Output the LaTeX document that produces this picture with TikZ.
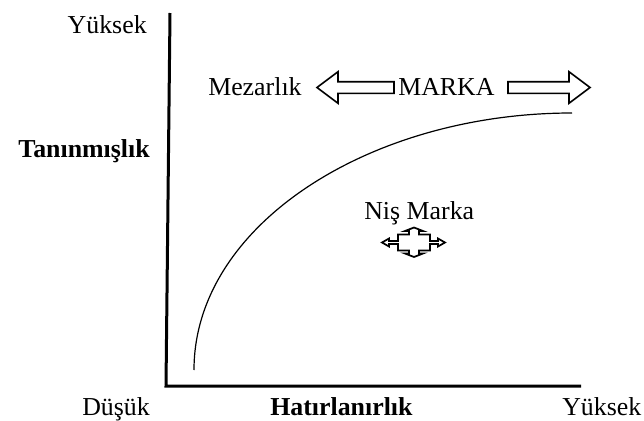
\documentclass[tikz,border=0pt]{standalone}
\usepackage{fontspec}
\setmainfont{Liberation Serif}
\usepackage{tikz}
\usetikzlibrary{positioning}

\begin{document}
\begin{tikzpicture}[x=0.75pt,y=-0.75pt,
  lbl/.style={inner sep=0pt,font=\fontsize{19.4}{23}\selectfont},
  bold/.style={lbl,font=\fontsize{19.4}{23}\selectfont\bfseries},
  axis/.style={line width=2.25pt,line join=miter},
  curve/.style={line width=0.9pt},
  blockarr/.style={draw,line width=1.2pt,line join=miter}]
\useasboundingbox (0,0) rectangle (644,421);
% axes
\coordinate (ytop) at (170,13);
\coordinate (origin) at (166,386);
\coordinate (xend) at (581,386);
\draw[axis] (ytop) -- (origin) -- (xend);
% axis labels
\node[lbl,anchor=base east] (yhigh) at (147,33) {Yüksek};
\node[bold,anchor=base east] (ytitle) at (150,157) {Tanınmışlık};
\node[lbl,anchor=base west] (xlow) at (82,415) {Düşük};
\node[bold,anchor=base west] (xtitle) at (270,415) {Hatırlanırlık};
\node[lbl,anchor=base west] (xhigh) at (562,415) {Yüksek};
% brand curve
\coordinate (cstart) at (194,370);
\coordinate (cend) at (572,113);
\draw[curve] (cstart) .. controls (194,225) and (370,113) .. (cend);
% top row
\node[lbl,anchor=base west] (grave) at (208,95) {Mezarlık};
\node[lbl,anchor=base west] (brand) at (398,95) {MARKA};
\draw[blockarr] (317,87.5) -- (338,71.7) -- (338,81.7) -- (394,81.7)
  -- (394,93.3) -- (338,93.3) -- (338,103.3) -- cycle;
\draw[blockarr] (508,81.7) -- (569,81.7) -- (569,71.7) -- (590,87.5)
  -- (569,103.3) -- (569,93.3) -- (508,93.3) -- cycle;
% niche
\node[lbl,anchor=base west] (niche) at (364,219) {Niş Marka};
\begin{scope}[shift={(414,242.5)}]
\draw[blockarr,line width=1.3pt] (0,-15) -- (9,-11.5) -- (5,-11.5) -- (5,-8) -- (16,-8)
  -- (16,-1.5) -- (24,-1.5) -- (24,-4) -- (31,0) -- (24,4) -- (24,1.5)
  -- (16,1.5) -- (16,8) -- (5,8) -- (5,11) -- (9,11) -- (0,14.5)
  -- (-9,11) -- (-5,11) -- (-5,8) -- (-16,8) -- (-16,1.5) -- (-25,1.5)
  -- (-25,4) -- (-32,0) -- (-25,-4) -- (-25,-1.5) -- (-16,-1.5)
  -- (-16,-8) -- (-5,-8) -- (-5,-11.5) -- (-9,-11.5) -- cycle;
\end{scope}
\end{tikzpicture}
\end{document}
